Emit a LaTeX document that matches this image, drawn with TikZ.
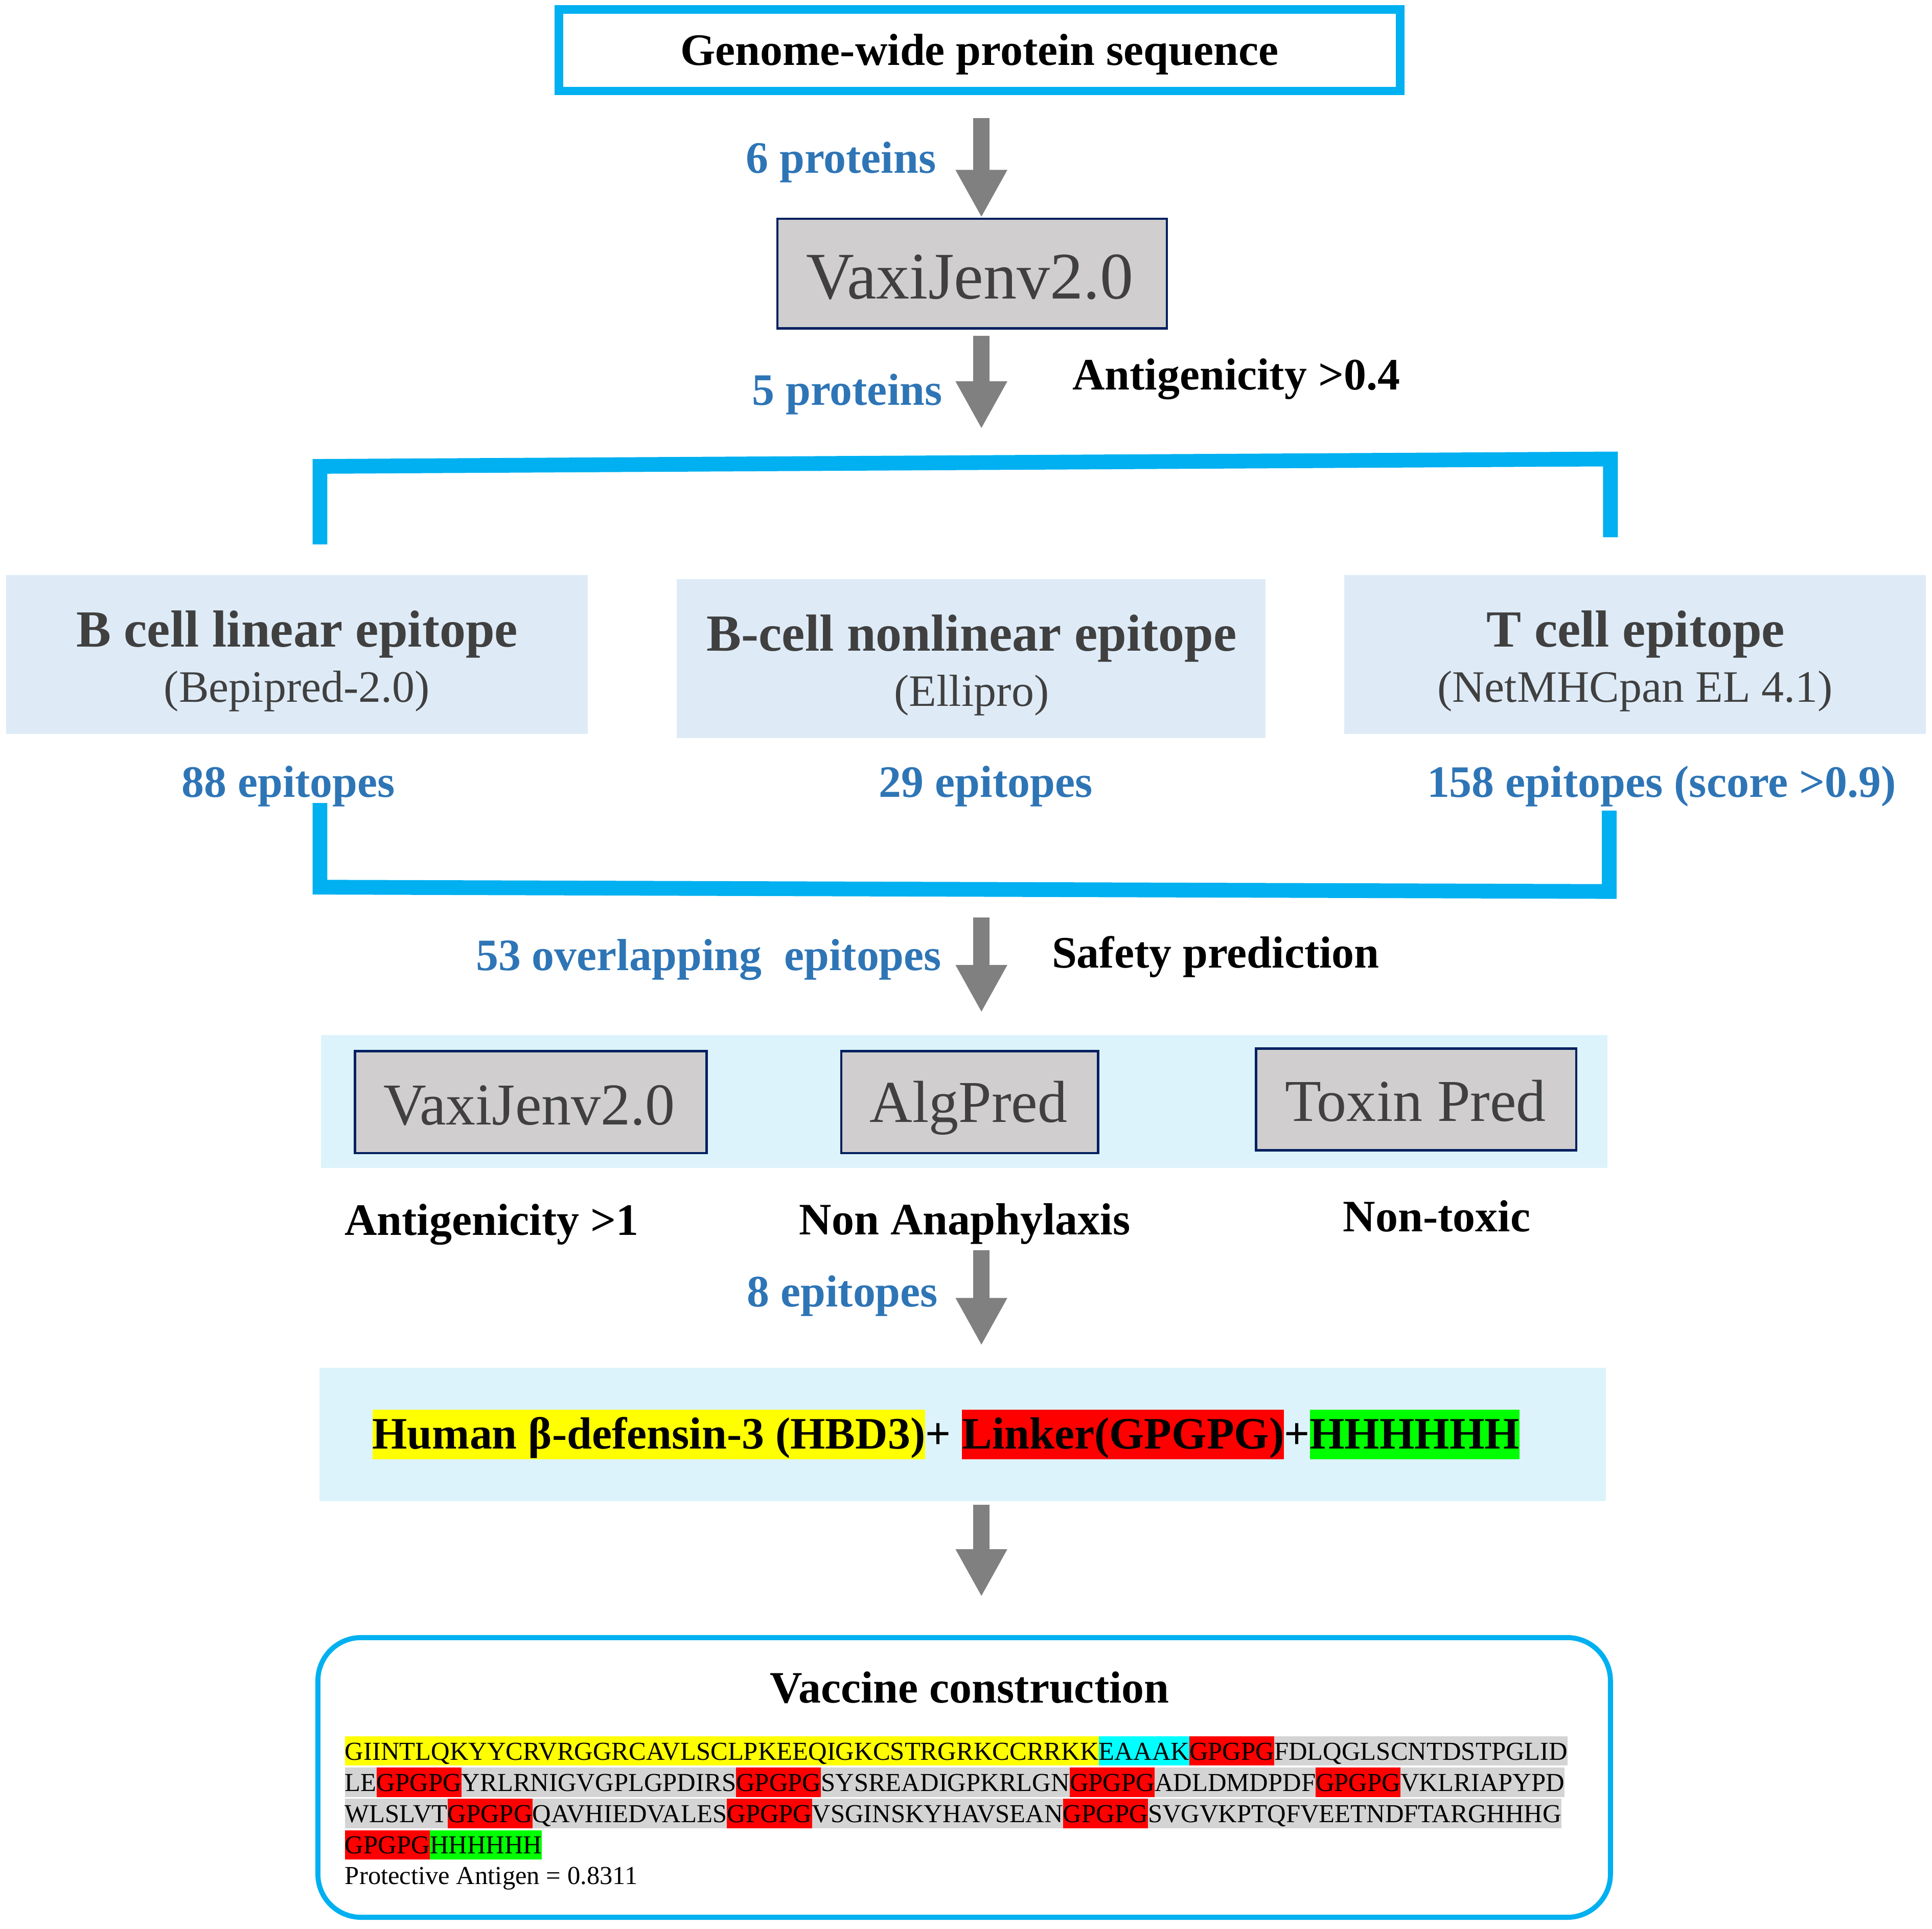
\documentclass[tikz,border=0pt]{standalone}
\usepackage{fontspec}
\setmainfont{Liberation Serif}
\usetikzlibrary{arrows.meta}
\definecolor{cyanb}{HTML}{00B0F0}
\definecolor{lblue}{HTML}{2E75B6}
\definecolor{agray}{HTML}{808080}
\definecolor{bgray}{HTML}{D0CECE}
\definecolor{navy}{HTML}{002060}
\definecolor{dgray}{HTML}{404040}
\definecolor{pblue}{HTML}{DEEBF7}
\definecolor{pcyan}{HTML}{DDF3FB}
\definecolor{seqgray}{HTML}{D4D4D4}
\definecolor{hlyellow}{HTML}{FFFF00}
\definecolor{hlred}{HTML}{FF0000}
\definecolor{hlcyan}{HTML}{00FFFF}
\definecolor{hlgreen}{HTML}{00FF00}
\setlength{\fboxsep}{0pt}
\newcommand{\seqbox}[2]{\colorbox{#1}{\rule[-3.2pt]{0pt}{16.3pt}#2}}
\newcommand{\hlbox}[2]{\colorbox{#1}{\rule[-5.9pt]{0pt}{27.5pt}#2}}
\begin{document}
\begin{tikzpicture}[x=0.0241cm, y=-0.0241cm,
  sz/.style 2 args={minimum width=#1*0.0241cm, minimum height=#2*0.0241cm},
  lab/.style={inner sep=0pt, text=lblue, font=\fontsize{25}{30}\selectfont\bfseries},
  note/.style={inner sep=0pt, text=black, font=\fontsize{25}{30}\selectfont\bfseries},
  ttl/.style={inner sep=0pt, text=dgray, font=\fontsize{29}{34}\selectfont\bfseries},
  subt/.style={inner sep=0pt, text=dgray, font=\fontsize{25}{30}\selectfont},
  tool/.style={draw=navy, line width=1.3pt, fill=bgray, inner sep=0pt},
  tooltxt/.style={inner sep=0pt, text=dgray},
  epibox/.style={fill=pblue, inner sep=0pt},
  panel/.style={fill=pcyan, inner sep=0pt},
  topbox/.style={draw=cyanb, line width=4.8pt, fill=white, inner sep=0pt},
  finbox/.style={draw=cyanb, line width=2.8pt, rounded corners=24pt, inner sep=0pt},
  garrow/.style={draw=agray, line width=9.2pt, -{Triangle[width=26.8pt,length=26.5pt]}},
  bracket/.style={draw=cyanb, line width=8.2pt},
  seq/.style={inner sep=0pt, anchor=base west, font=\fontsize{14.4}{17}\selectfont}
]
\useasboundingbox (0,0) rectangle (1568,1565.1);

% top box
\node[topbox, sz={683}{66}] (top) at (795,40.85) {};
\node[note, anchor=base] (toptxt) at (795,52.8) {Genome-wide protein sequence};

% VaxiJen 1
\node[tool, sz={316}{89}] (vax1) at (789,222) {};
\node[tooltxt, font=\fontsize{37}{44}\selectfont, anchor=base] (vax1t) at (787,242.4) {VaxiJenv2.0};

\node[lab, anchor=base east] (l6) at (760,140.5) {6 proteins};
\node[lab, anchor=base east] (l5) at (765,328.6) {5 proteins};
\node[note, anchor=base west] (ag04) at (870,316.2) {Antigenicity >0.4};

% arrows axis
\coordinate (ax) at (796.5,0);
\coordinate (a2e) at (796.5,348.1);
\coordinate (a3s) at (796.5,744.6);

\draw[garrow, shorten <=12.7pt] (ax |- top.south) -- (ax |- vax1.north);
\draw[garrow, shorten <=3.4pt] (ax |- vax1.south) -- (a2e);

% top bracket
\coordinate (tb1) at (259.7,441.8);
\coordinate (tb2) at (259.7,378.5);
\coordinate (tb3) at (1307,372.5);
\coordinate (tb4) at (1307,436);
\draw[bracket] (tb1) -- (tb2) -- (tb3) -- (tb4);

% epitope boxes
\node[epibox, sz={472}{129}] (ba) at (241,531.2) {};
\node[epibox, sz={478}{129}] (bb) at (788,534.4) {};
\node[epibox, sz={472}{129}] (bc) at (1327,531.2) {};
\node[ttl, anchor=base] (bat) at (241,524.8) {B cell linear epitope};
\node[subt, anchor=base] (bas) at (241,569.6) {(Bepipred-2.0)};
\node[ttl, anchor=base] (bbt) at (788.5,528.1) {B-cell nonlinear epitope};
\node[subt, anchor=base] (bbs) at (788.5,573) {(Ellipro)};
\node[ttl, anchor=base] (bct) at (1327.5,524.8) {T cell epitope};
\node[subt, anchor=base] (bcs) at (1327,569.6) {(NetMHCpan EL 4.1)};

\node[lab, anchor=base] (e88) at (234,647) {88 epitopes};
\node[lab, anchor=base] (e29) at (800,647) {29 epitopes};
\node[lab, anchor=base] (e158) at (1348.5,647) {158 epitopes (score >0.9)};

% bottom bracket
\coordinate (bb1) at (259.7,651.7);
\coordinate (bb2) at (259.7,720);
\coordinate (bb3) at (1306,723.5);
\coordinate (bb4) at (1306,657.8);
\draw[bracket] (bb1) -- (bb2) -- (bb3) -- (bb4);

\node[lab, anchor=base east] (e53) at (764.4,787.5) {53 overlapping\ \ epitopes};
\node[note, anchor=base west] (safe) at (853.4,785.4) {Safety prediction};

% panel 1
\node[panel, sz={1044}{108}] (p1) at (782.6,894) {};
\node[tool, sz={285.5}{82.7}] (vax2) at (430.8,894.4) {};
\node[tool, sz={208.5}{82.7}] (alg) at (787,894.4) {};
\node[tool, sz={260}{82.5}] (tox) at (1149.3,892.3) {};
\node[tooltxt, font=\fontsize{33}{40}\selectfont, anchor=base] (vax2t) at (429.5,912.6) {VaxiJenv2.0};
\node[tooltxt, font=\fontsize{33}{40}\selectfont, anchor=base] (algt) at (786,910.9) {AlgPred};
\node[tooltxt, font=\fontsize{33}{40}\selectfont, anchor=base] (toxt) at (1148.8,909.8) {Toxin Pred};

\draw[garrow] (a3s) -- (ax |- p1.north) [shorten >=12.3pt];

\node[note, anchor=base] (ag1) at (399,1002.5) {Antigenicity >1};
\node[note, anchor=base] (nana) at (783,1001.8) {Non Anaphylaxis};
\node[note, anchor=base] (ntox) at (1166,999.4) {Non-toxic};

\node[lab, anchor=base east] (e8) at (761.5,1060.6) {8 epitopes};

% panel 2
\node[panel, sz={1044}{108}] (p2) at (781.4,1164.2) {};
\node[inner sep=0pt, anchor=base west, font=\fontsize{25}{30}\selectfont\bfseries] (hbd) at (301.9,1175.7)
  {\hlbox{hlyellow}{Human β-defensin-3 (HBD3)}+ \hlbox{hlred}{Linker(GPGPG)}+\hlbox{hlgreen}{HHHHHH}};

\draw[garrow, shorten <=45.4pt, shorten >=12.3pt] (ax |- p1.south) -- (ax |- p2.north);

% final box
\node[finbox, sz={1049}{227}] (fin) at (782.5,1442.5) {};
\draw[garrow, shorten <=1.9pt, shorten >=21.3pt] (ax |- p2.south) -- (ax |- fin.north);

\node[note, anchor=base] (vct) at (787,1382) {Vaccine construction};

\node[seq] (s1) at (279.7,1428.2) {\seqbox{hlyellow}{GIINTLQKYYCRVRGGRCAVLSCLPKEEQIGKCSTRGRKCCRRKK}\seqbox{hlcyan}{EAAAK}\seqbox{hlred}{GPGPG}\seqbox{seqgray}{FDLQGLSCNTDSTPGLID}};
\node[seq] (s2) at (279.7,1453.6) {\seqbox{seqgray}{LE}\seqbox{hlred}{GPGPG}\seqbox{seqgray}{YRLRNIGVGPLGPDIRS}\seqbox{hlred}{GPGPG}\seqbox{seqgray}{SYSREADIGPKRLGN}\seqbox{hlred}{GPGPG}\seqbox{seqgray}{ADLDMDPDF}\seqbox{hlred}{GPGPG}\seqbox{seqgray}{VKLRIAPYPD}};
\node[seq] (s3) at (279.7,1479.0) {\seqbox{seqgray}{WLSLVT}\seqbox{hlred}{GPGPG}\seqbox{seqgray}{QAVHIEDVALES}\seqbox{hlred}{GPGPG}\seqbox{seqgray}{VSGINSKYHAVSEAN}\seqbox{hlred}{GPGPG}\seqbox{seqgray}{SVGVKPTQFVEETNDFTARGHHHG}};
\node[seq] (s4) at (279.7,1504.4) {\seqbox{hlred}{GPGPG}\seqbox{hlgreen}{HHHHHH}};
\node[seq] (pa) at (279.7,1529.3) {Protective Antigen = 0.8311};
\end{tikzpicture}
\end{document}
